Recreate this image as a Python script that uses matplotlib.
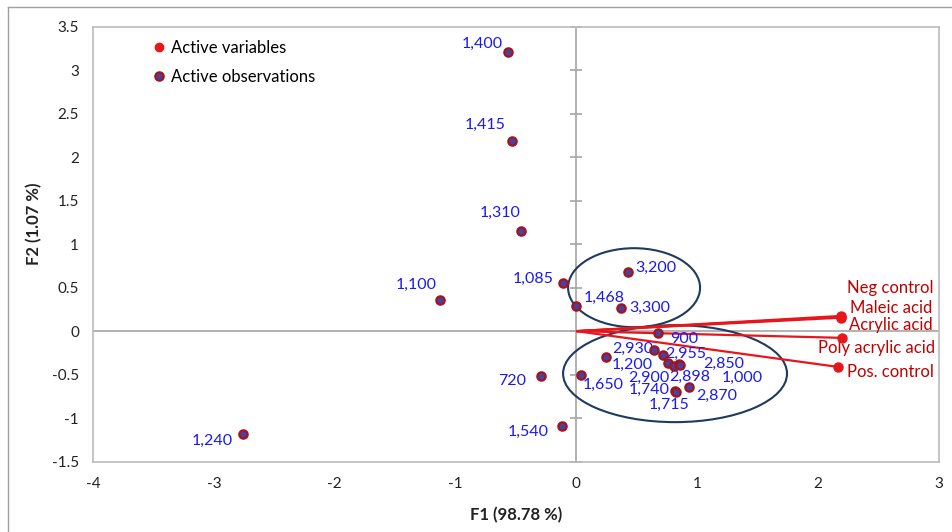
import numpy as np
import matplotlib.pyplot as plt
from matplotlib.patches import Ellipse
from matplotlib.lines import Line2D
from matplotlib.ticker import FuncFormatter

plt.rcParams['font.family'] = ['Lato', 'DejaVu Sans']
plt.rcParams['axes.unicode_minus'] = False

# observations (scores on F1 / F2)
obs_labels = ["1,400", "1,415", "1,310", "1,085", "1,100", "1,468", "3,200", "3,300",
              "900", "2,930", "2,955", "1,200", "2,900", "2,898", "2,850", "1,000",
              "1,650", "1,740", "1,715", "2,870", "720", "1,540", "1,240"]
obs_f1 = [-0.563, -0.535, -0.458, -0.108, -1.129, -0.006, 0.429, 0.367,
          0.678, 0.642, 0.717, 0.242, 0.755, 0.805, 0.846, 0.853,
          0.036, 0.816, 0.820, 0.934, -0.293, -0.122, -2.761]
obs_f2 = [3.214, 2.190, 1.151, 0.549, 0.357, 0.288, 0.682, 0.268,
          -0.020, -0.219, -0.276, -0.303, -0.372, -0.399, -0.383, -0.386,
          -0.506, -0.687, -0.696, -0.641, -0.518, -1.090, -1.185]

# variables (loadings on F1 / F2)
var_labels = ["Neg control", "Maleic acid", "Acrylic acid", "Poly acrylic acid", "Pos. control"]
var_f1 = [2.190, 2.190, 2.188, 2.195, 2.162]
var_f2 = [0.175, 0.165, 0.155, -0.077, -0.411]

x_ticks = np.arange(-4, 4)
y_ticks = np.arange(-1.5, 3.51, 0.5)

# label offsets in pixels (dx, dy)
obs_offsets = [(-26, 8), (-27, 16), (-21, 18), (-30, 5), (-24, 15), (28, 8), (28, 4), (29, 0),
               (26, -6), (-21, 1), (23, 1), (27, -7), (-19, -14), (16, -11), (45, 1), (63, -13),
               (22, -10), (-26, 1), (-6, -13), (27, -9), (-29, -5), (-33, -6), (-30, -7)]
var_offsets = [(92, 28), (91, 9), (92, -7), (93, -10), (96, -5)]

red = '#E8161B'
dark_red = '#C00000'
obs_face = '#4B3FA0'
obs_edge = '#A3141C'
blue = '#1A1AF0'
navy = '#1F3A5F'

fig = plt.figure(figsize=(9.52, 5.32), dpi=100)
ax = fig.add_axes([93 / 952, 1 - 461.5 / 532, 846 / 952, 434.5 / 532])

# outer chart border
fig.add_artist(Line2D([8 / 952, 8 / 952], [0, 1 - 7 / 532], color='#A0A0A0', lw=1))
fig.add_artist(Line2D([8 / 952, 1], [1 - 7 / 532, 1 - 7 / 532], color='#A0A0A0', lw=1))

ax.set_xlim(-4, 3)
ax.set_ylim(-1.5, 3.5)
ax.set_xticks(x_ticks)
ax.set_yticks(y_ticks)
ax.xaxis.set_major_formatter(FuncFormatter(lambda v, p: '%g' % v))
ax.yaxis.set_major_formatter(FuncFormatter(lambda v, p: '%g' % v))
ax.tick_params(length=0, labelsize=11, colors='#222222')
ax.tick_params(axis='x', pad=11)
ax.tick_params(axis='y', pad=10)
for s in ax.spines.values():
    s.set_color('#BBBBBB')
    s.set_linewidth(1.2)

# axes through the origin, small cross ticks on the vertical one
ax.axhline(0, color='#A6A6A6', lw=1.2, zorder=1)
ax.axvline(0, color='#A6A6A6', lw=1.2, zorder=1)
ax.plot(np.zeros(len(y_ticks)), y_ticks, ls='', marker='_', ms=8, mew=1.2, color='#A6A6A6',
        zorder=1, clip_on=False)

# ellipses around the groups
ax.add_patch(Ellipse((0.477, 0.50), 1.092, 0.909, fill=False, ec=navy, lw=1.5, zorder=2))
ax.add_patch(Ellipse((0.816, -0.489), 1.853, 1.116, fill=False, ec=navy, lw=1.5, zorder=2))

# variable vectors
for x, y, lab, (dx, dy) in zip(var_f1, var_f2, var_labels, var_offsets):
    ax.plot([0, x], [0, y], color=red, lw=1.6, zorder=3, solid_capstyle='butt')
    ax.plot(x, y, 'o', color=red, ms=6.5, zorder=4)
    ax.annotate(lab, (x, y), xytext=(dx, dy), textcoords='offset pixels',
                ha='right', va='center', color=dark_red, fontsize=12)

# observations
ax.plot(obs_f1, obs_f2, 'o', ms=6, mfc=obs_face, mec=obs_edge, mew=1.6, ls='', zorder=5)
for x, y, lab, (dx, dy) in zip(obs_f1, obs_f2, obs_labels, obs_offsets):
    ax.annotate(lab, (x, y), xytext=(dx, dy), textcoords='offset pixels',
                ha='center', va='center', color=blue, fontsize=11.5)

handles = [Line2D([], [], ls='', marker='o', color=red, ms=6),
           Line2D([], [], ls='', marker='o', mfc=obs_face, mec=obs_edge, mew=1.6, ms=6)]
ax.legend(handles, ["Active variables", "Active observations"], loc='upper left',
          bbox_to_anchor=(0.062, 0.985), frameon=False, fontsize=12, handlelength=0.8,
          handletextpad=0.35, labelspacing=0.75, borderaxespad=0)

fig.text(34 / 952, 1 - 224 / 532, "F2 (1.07 %)", rotation=90, ha='center', va='center',
         fontsize=12, fontweight='bold', color='#222222')
fig.text(516 / 952, 1 - 515 / 532, "F1 (98.78 %)", ha='center', va='center',
         fontsize=12, fontweight='bold', color='#222222')

fig.savefig('out.png', dpi=100)
